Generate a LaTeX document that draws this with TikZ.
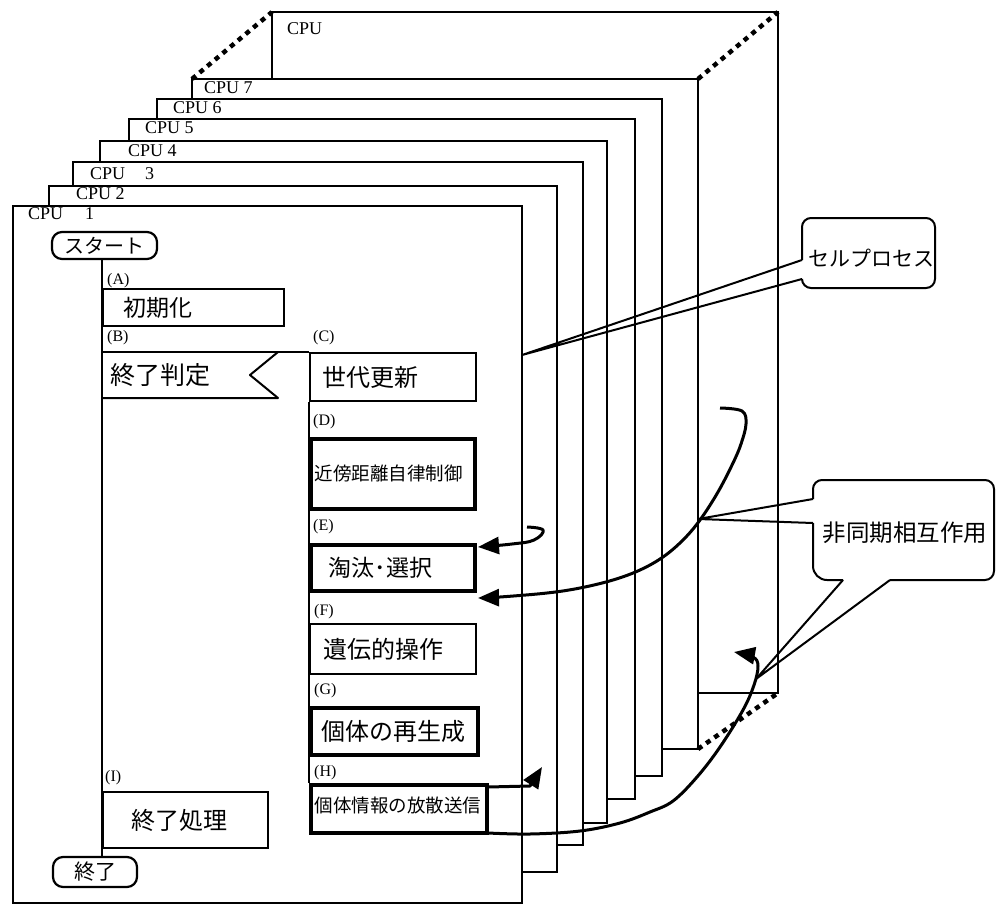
\documentclass[tikz,border=0pt]{standalone}
\usepackage{fontspec}
\setmainfont{Liberation Serif}
\newfontfamily\jp{Noto Sans CJK JP}
\usetikzlibrary{arrows.meta}
\newcommand{\jpf}[1]{\jp\fontsize{#1}{#1}\selectfont}
\begin{document}
\begin{tikzpicture}[x=1pt,y=-1pt,
  panel/.style={draw, fill=white, line width=1.6pt},
  flow/.style={line width=2pt, line join=round},
  thinbox/.style={draw, line width=2pt, inner ysep=0pt, anchor=north west, align=left},
  thickbox/.style={draw, line width=3.5pt, inner ysep=0pt, anchor=north west, align=left},
  term/.style={draw, line width=2.2pt, rounded corners=10pt, inner sep=0pt},
  tag/.style={font=\fontsize{16}{16}\selectfont, anchor=west, inner sep=0pt},
  cpulab/.style={font=\fontsize{18}{18}\selectfont, anchor=west, inner sep=0pt},
  arr/.style={line width=3pt, line join=round, -{Triangle[length=21pt,width=17pt]}},
  dotline/.style={line width=4.5pt, dash pattern=on 5pt off 5pt},
  call/.style={line width=2pt, rounded corners=9pt},
  jptext/.style={inner sep=0pt}
]
\useasboundingbox (0,0) rectangle (996,905);

% stacked CPU panels (back to front)
\draw[panel] (272,12) rectangle (778,693);
\draw[panel] (192,79) rectangle (698,749);
\draw[panel] (157,99) rectangle (662,776);
\draw[panel] (129,119) rectangle (635,799);
\draw[panel] (100,141) rectangle (607,823);
\draw[panel] (73,162) rectangle (583,845);
\draw[panel] (49,186) rectangle (557,872);
\draw[panel, line width=2pt] (13,206) rectangle (522,903);

% dotted depth lines
\draw[dotline] (192,79) -- (272,12);
\draw[dotline] (698,79) -- (778,12);
\draw[dotline] (698,749) -- (778,693);

% CPU labels
\node[cpulab] (c8) at (287,29) {CPU};
\node[cpulab] (c7) at (204,88) {CPU 7};
\node[cpulab] (c6) at (173,108) {CPU 6};
\node[cpulab] (c5) at (145,128) {CPU 5};
\node[cpulab] (c4) at (128,151) {CPU 4};
\node[cpulab] (c3) at (90,174) {CPU\hspace{20pt}3};
\node[cpulab] (c2) at (76,194) {CPU 2};
\node[cpulab] (c1) at (28,214) {CPU\hspace{22pt}1};

% flow chart on CPU 1
\node[term, minimum width=105pt, minimum height=27pt, font=\jpf{20}] (start) at (104.5,245.5) {スタート};
\node[term, minimum width=84pt, minimum height=30pt, font=\jpf{21}] (stop) at (95,872) {終了};

\node[thinbox, minimum width=181pt, minimum height=37pt, inner xsep=20pt, text width=141pt, font=\jpf{23}] (init) at (102,288) {初期化};
\node[thinbox, minimum width=166pt, minimum height=48pt, inner xsep=12pt, text width=142pt, font=\jpf{24}] (gen) at (309,352) {世代更新};
\node[thickbox, minimum width=164pt, minimum height=70pt, inner xsep=4pt, text width=156pt, font=\jpf{18.5}] (dbox) at (309,437) {近傍距離自律制御};
\node[thickbox, minimum width=164pt, minimum height=46pt, inner xsep=18pt, text width=128pt, font=\jpf{23}] (ebox) at (309,543) {淘汰･選択};
\node[thinbox, minimum width=166pt, minimum height=50pt, inner xsep=13pt, text width=140pt, font=\jpf{24}] (fbox) at (309,623) {遺伝的操作};
\node[thickbox, minimum width=167pt, minimum height=47pt, inner xsep=11pt, text width=145pt, font=\jpf{24}] (gbox) at (309,706) {個体の再生成};
\node[thickbox, minimum width=176pt, minimum height=48pt, inner xsep=4pt, text width=168pt, text depth=8pt, font=\jpf{18.5}] (hbox) at (309,783) {個体情報の放散送信};
\node[thinbox, minimum width=165pt, minimum height=56pt, inner xsep=28pt, text width=109pt, font=\jpf{24}] (ibox) at (102,791) {終了処理};

\node[jptext, anchor=west, font=\jpf{25}] (judge) at (110,375) {終了判定};

% flow lines
\draw[flow] (start.south -| init.west) -- (stop.north -| init.west);
\draw[flow] (init.west |- gen.north) -- (gen.north west);
\draw[flow] (102,398) -- (278,398) -- (250,375) -- (278,352);
\draw[flow] (gen.south west) -- (hbox.north west);

% step tags
\node[tag] (ta) at (107,281) {(A)};
\node[tag] (tb) at (107,338) {(B)};
\node[tag] (tc) at (313,338) {(C)};
\node[tag] (td) at (313,422) {(D)};
\node[tag] (te) at (313,527) {(E)};
\node[tag] (tf) at (314,612) {(F)};
\node[tag] (tg) at (314,691) {(G)};
\node[tag] (th) at (314,773) {(H)};
\node[tag] (ti) at (105,778) {(I)};

% interaction arrows
\draw[arr] plot[smooth, tension=0.7] coordinates {(527,527) (543,530) (534,540) (512,544) (478,547)};
\draw[arr] plot[smooth, tension=0.6] coordinates {(720,408) (742,411) (746,424) (741,444) (733,463) (718,492) (700,520) (683,540) (663,557) (640,570) (613,580) (580,588) (547,593) (500,597) (478,598)};
\draw[arr] (488,787) -- (530,786) -- (542,767);
\draw[arr] plot[smooth, tension=0.6] coordinates {(488,833) (530,834) (580,831) (620,823) (650,812) (673,801) (697,777) (720,747) (743,710) (754,685) (758,666) (753,657) (734,652)};

% callout: cell process
\coordinate (cellpt) at (522,355);
\draw[call] (802,260) -- (802,218) -- (935,218) -- (935,288) -- (802,288) -- (802,279);
\draw[flow] (802,260) -- (cellpt) -- (802,279);
\node[jptext, font=\jpf{21}] (cell) at (871,258) {セルプロセス};

% callout: asynchronous interaction
\coordinate (asyncpt1) at (698,519);
\coordinate (asyncpt2) at (756,679);
\draw[call] (813,499) -- (813,480) -- (994,480) -- (994,580) -- (890,580);
\draw[call, rounded corners=14pt] (843,580) -- (813,580) -- (813,523);
\draw[flow] (813,499) -- (asyncpt1) -- (813,523);
\draw[flow] (843,580) -- (asyncpt2) -- (890,580);
\node[jptext, font=\jpf{23.5}] (async) at (905,533) {非同期相互作用};
\end{tikzpicture}
\end{document}
